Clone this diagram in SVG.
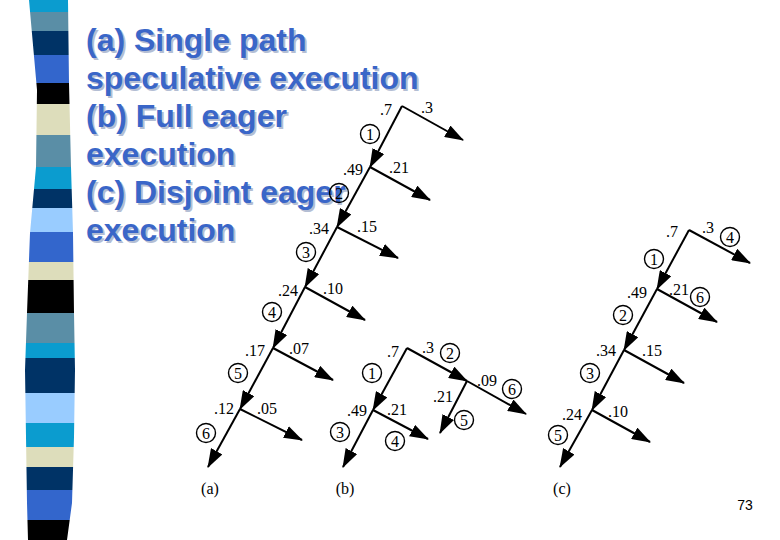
<svg xmlns="http://www.w3.org/2000/svg" width="780" height="540" viewBox="0 0 780 540">
<style>
.ttl{font-family:"Liberation Sans",Arial,sans-serif;font-weight:bold;font-size:32px}
.sh{fill:#b4bed4}
.fg{fill:#3a66c8}
.lb{font-family:"Liberation Serif","Times New Roman",serif;font-size:16px;fill:#000;text-anchor:middle}
.cn{font-family:"Liberation Serif","Times New Roman",serif;font-size:16px;fill:#000;text-anchor:middle}
.cc{fill:none;stroke:#000;stroke-width:1.4}
.ar{stroke:#000;stroke-width:2;fill:none;marker-end:url(#ah)}
.pg{font-family:"Liberation Sans",Arial,sans-serif;font-size:14px;fill:#000;text-anchor:middle}
</style>
<defs>
<marker id="ah" markerUnits="userSpaceOnUse" markerWidth="19" markerHeight="13" refX="18" refY="6.5" orient="auto">
<path d="M0,0 L19,6.5 L0,13 z" fill="#000"/>
</marker>
<clipPath id="barclip">
<path d="M29,0 L37,90 L36,167 L30,233 L27,313 L25,370 L26,437 L27,503 L28,540 L67,540 L72,503 L74,437 L75,370 L74,313 L73,233 L71,167 L69,83 L68,0 Z"/>
</clipPath>
</defs>
<rect width="780" height="540" fill="#fff"/>
<g id="bar" clip-path="url(#barclip)">
<rect x="20" y="0" width="60" height="12" fill="#0b9ccf"/>
<rect x="20" y="12" width="60" height="19" fill="#5a8ea6"/>
<rect x="20" y="31" width="60" height="24" fill="#003366"/>
<rect x="20" y="55" width="60" height="28" fill="#3366cc"/>
<rect x="20" y="83" width="60" height="21" fill="#000"/>
<rect x="20" y="104" width="60" height="31" fill="#ddddbb"/>
<rect x="20" y="135" width="60" height="32" fill="#5a8ea6"/>
<rect x="20" y="167" width="60" height="22" fill="#0b9ccf"/>
<rect x="20" y="189" width="60" height="19" fill="#003366"/>
<rect x="20" y="208" width="60" height="24" fill="#99ccff"/>
<rect x="20" y="232" width="60" height="30" fill="#3366cc"/>
<rect x="20" y="262" width="60" height="18" fill="#ddddbb"/>
<rect x="20" y="280" width="60" height="33" fill="#000"/>
<rect x="20" y="313" width="60" height="30" fill="#5a8ea6"/>
<rect x="20" y="343" width="60" height="15" fill="#0b9ccf"/>
<rect x="20" y="358" width="60" height="35" fill="#003366"/>
<rect x="20" y="393" width="60" height="30" fill="#99ccff"/>
<rect x="20" y="423" width="60" height="24" fill="#0b9ccf"/>
<rect x="20" y="447" width="60" height="20" fill="#ddddbb"/>
<rect x="20" y="467" width="60" height="23" fill="#003366"/>
<rect x="20" y="490" width="60" height="30" fill="#3366cc"/>
<rect x="20" y="520" width="60" height="20" fill="#000"/>
</g>
<g id="title" class="ttl">
<g class="sh" transform="translate(2,2)">
<text x="86" y="51">(a) Single path</text>
<text x="86" y="89">speculative execution</text>
<text x="86" y="127">(b) Full eager</text>
<text x="86" y="165">execution</text>
<text x="86" y="203">(c) Disjoint eager</text>
<text x="86" y="241">execution</text>
</g>
<g class="fg">
<text x="86" y="51">(a) Single path</text>
<text x="86" y="89">speculative execution</text>
<text x="86" y="127">(b) Full eager</text>
<text x="86" y="165">execution</text>
<text x="86" y="203">(c) Disjoint eager</text>
<text x="86" y="241">execution</text>
</g>
</g>
<g id="connectors">
<line class="ar" x1="402" y1="106" x2="370" y2="167"/>
<line class="ar" x1="370" y1="167" x2="337" y2="227"/>
<line class="ar" x1="337" y1="227" x2="305" y2="287"/>
<line class="ar" x1="305" y1="287" x2="273" y2="348"/>
<line class="ar" x1="273" y1="348" x2="240" y2="409"/>
<line class="ar" x1="240" y1="409" x2="208" y2="467"/>
<line class="ar" x1="402" y1="106" x2="463" y2="140"/>
<line class="ar" x1="370" y1="167" x2="430" y2="200"/>
<line class="ar" x1="337" y1="227" x2="398" y2="258"/>
<line class="ar" x1="305" y1="287" x2="365" y2="320"/>
<line class="ar" x1="273" y1="348" x2="333" y2="380"/>
<line class="ar" x1="240" y1="409" x2="302" y2="440"/>
<line class="ar" x1="407" y1="348" x2="373" y2="410"/>
<line class="ar" x1="373" y1="410" x2="343" y2="467"/>
<line class="ar" x1="373" y1="410" x2="428" y2="439"/>
<line class="ar" x1="407" y1="348" x2="467" y2="381"/>
<line class="ar" x1="467" y1="381" x2="526" y2="414"/>
<line class="ar" x1="467" y1="381" x2="440" y2="433"/>
<line class="ar" x1="689" y1="230" x2="657" y2="289"/>
<line class="ar" x1="657" y1="289" x2="624" y2="350"/>
<line class="ar" x1="624" y1="350" x2="592" y2="410"/>
<line class="ar" x1="592" y1="410" x2="560" y2="467"/>
<line class="ar" x1="689" y1="230" x2="750" y2="263"/>
<line class="ar" x1="657" y1="289" x2="717" y2="322"/>
<line class="ar" x1="624" y1="350" x2="684" y2="383"/>
<line class="ar" x1="592" y1="410" x2="650" y2="442"/>
</g>
<g id="tree-a">
<text class="lb" x="386" y="115">.7</text>
<text class="lb" x="427" y="113">.3</text>
<text class="lb" x="353" y="175">.49</text>
<text class="lb" x="399" y="173">.21</text>
<text class="lb" x="319" y="234">.34</text>
<text class="lb" x="367" y="232">.15</text>
<text class="lb" x="288" y="296">.24</text>
<text class="lb" x="333" y="294">.10</text>
<text class="lb" x="255" y="356">.17</text>
<text class="lb" x="299" y="354">.07</text>
<text class="lb" x="224" y="414">.12</text>
<text class="lb" x="267" y="414">.05</text>
<text class="lb" x="210" y="494">(a)</text>
</g>
<g id="a-n1"><circle class="cc" cx="370" cy="134" r="9.5"/><text class="cn" x="370" y="139.5">1</text></g>
<g id="a-n2"><circle class="cc" cx="339" cy="193" r="9.5"/><text class="cn" x="339" y="198.5">2</text></g>
<g id="a-n3"><circle class="cc" cx="306" cy="252" r="9.5"/><text class="cn" x="306" y="257.5">3</text></g>
<g id="a-n4"><circle class="cc" cx="272" cy="312" r="9.5"/><text class="cn" x="272" y="317.5">4</text></g>
<g id="a-n5"><circle class="cc" cx="238" cy="373" r="9.5"/><text class="cn" x="238" y="378.5">5</text></g>
<g id="a-n6"><circle class="cc" cx="206" cy="433" r="9.5"/><text class="cn" x="206" y="438.5">6</text></g>
<g id="tree-b">
<text class="lb" x="393" y="357">.7</text>
<text class="lb" x="428" y="353">.3</text>
<text class="lb" x="357" y="416">.49</text>
<text class="lb" x="397" y="415">.21</text>
<text class="lb" x="443" y="402">.21</text>
<text class="lb" x="487" y="386">.09</text>
<text class="lb" x="345" y="494">(b)</text>
</g>
<g id="b-n1"><circle class="cc" cx="372" cy="373" r="9.5"/><text class="cn" x="372" y="378.5">1</text></g>
<g id="b-n2"><circle class="cc" cx="450" cy="353" r="9.5"/><text class="cn" x="450" y="358.5">2</text></g>
<g id="b-n3"><circle class="cc" cx="340" cy="432" r="9.5"/><text class="cn" x="340" y="437.5">3</text></g>
<g id="b-n4"><circle class="cc" cx="395" cy="441" r="9.5"/><text class="cn" x="395" y="446.5">4</text></g>
<g id="b-n5"><circle class="cc" cx="464" cy="420" r="9.5"/><text class="cn" x="464" y="425.5">5</text></g>
<g id="b-n6"><circle class="cc" cx="512" cy="389" r="9.5"/><text class="cn" x="512" y="394.5">6</text></g>
<g id="tree-c">
<text class="lb" x="672" y="237">.7</text>
<text class="lb" x="708" y="233">.3</text>
<text class="lb" x="637" y="298">.49</text>
<text class="lb" x="679" y="295">.21</text>
<text class="lb" x="606" y="356">.34</text>
<text class="lb" x="652" y="356">.15</text>
<text class="lb" x="572" y="420">.24</text>
<text class="lb" x="618" y="417">.10</text>
<text class="lb" x="562" y="494">(c)</text>
</g>
<g id="c-n1"><circle class="cc" cx="654" cy="259" r="9.5"/><text class="cn" x="654" y="264.5">1</text></g>
<g id="c-n2"><circle class="cc" cx="623" cy="315" r="9.5"/><text class="cn" x="623" y="320.5">2</text></g>
<g id="c-n3"><circle class="cc" cx="590" cy="373" r="9.5"/><text class="cn" x="590" y="378.5">3</text></g>
<g id="c-n4"><circle class="cc" cx="730" cy="237" r="9.5"/><text class="cn" x="730" y="242.5">4</text></g>
<g id="c-n5"><circle class="cc" cx="558" cy="435" r="9.5"/><text class="cn" x="558" y="440.5">5</text></g>
<g id="c-n6"><circle class="cc" cx="700" cy="297" r="9.5"/><text class="cn" x="700" y="302.5">6</text></g>
<text class="pg" x="745" y="510">73</text>
</svg>
